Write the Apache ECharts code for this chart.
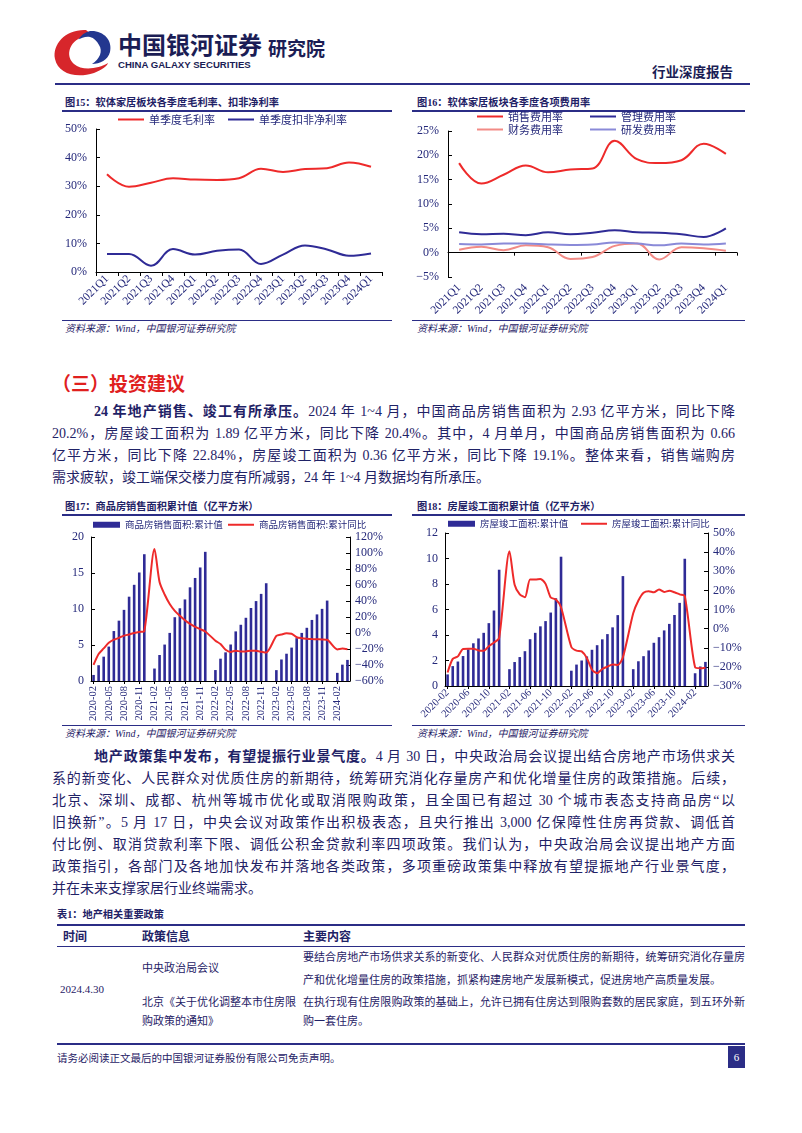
<!DOCTYPE html>
<html><head><meta charset="utf-8">
<script src="https://cdn.jsdelivr.net/npm/echarts@6/dist/echarts.min.js"></script>
<style>
html,body{margin:0;padding:0;background:#fff;}
#page{position:relative;width:802px;height:1133px;overflow:hidden;background:#fff;font-family:"Liberation Serif","Noto Sans CJK SC",serif;color:#1f2266;}
.a{position:absolute;white-space:nowrap;}
.j{position:absolute;text-align:justify;text-align-last:justify;white-space:normal;overflow:visible;}
.hl{position:absolute;background:#2b2d86;}
.ct{position:absolute;font-size:10.2px;font-weight:bold;white-space:nowrap;line-height:14px;}
.src{position:absolute;font-size:10px;font-style:italic;white-space:nowrap;line-height:12px;}
.p{font-size:14px;line-height:20px;height:20px;}
.t{font-size:11px;line-height:16px;height:16px;}
.chart{position:absolute;}
</style></head>
<body><div id="page">

<svg class="a" style="left:50px;top:26px" width="64" height="54" viewBox="0 0 64 54">
  <path d="M36 4 C16 3 2 18 5 33 C8 47 25 53 44 47 C52 44 57 40 58 37 C48 43 32 45 24 38 C16 31 18 18 30 12 C34 10 38 9 42 9 Z" fill="#d7262b"/>
  <path d="M40 5 C53 4 63 14 60 26 C58 34 50 38 42 38 C50 33 53 25 49 19 C47 15 44 12 40 11 C36 10 31 12 28 14 C31 9 35 6 40 5 Z" fill="#23378f"/>
  <path d="M30 14 C24 18 24 26 32 28 C40 30 42 36 36 40" stroke="#fff" stroke-width="3" fill="none"/>
</svg>
<div class="a" style="left:118px;top:29px;font-size:24px;font-weight:bold;font-family:'Noto Sans CJK SC';color:#1b1d55;line-height:30px;">中国银河证券</div>
<div class="a" style="left:118px;top:59px;font-size:9.6px;font-weight:bold;font-family:'Liberation Sans';color:#1b1d55;line-height:12px;">CHINA GALAXY SECURITIES</div>
<div class="a" style="left:268px;top:36px;font-size:19px;font-weight:bold;font-family:'Noto Sans CJK SC';color:#1b1d55;line-height:24px;">研究院</div>
<div class="a" style="left:652px;top:62px;font-size:13.5px;font-weight:bold;font-family:'Noto Sans CJK SC';color:#1b1d55;line-height:18px;">行业深度报告</div>
<div class="hl" style="left:55px;top:83px;width:695px;height:2px;"></div>

<div class="ct" style="left:65px;top:96px;">图15：软体家居板块各季度毛利率、扣非净利率</div>
<div class="hl" style="left:62px;top:110px;width:330px;height:1.5px;"></div>
<div class="ct" style="left:417px;top:96px;">图16：软体家居板块各季度各项费用率</div>
<div class="hl" style="left:412px;top:110px;width:333px;height:1.5px;"></div>
<div id="c15" class="chart" style="left:55px;top:112px;width:340px;height:206px;"></div>
<div id="c16" class="chart" style="left:405px;top:108px;width:340px;height:210px;"></div>
<div class="hl" style="left:62px;top:320px;width:330px;height:1px;"></div>
<div class="hl" style="left:412px;top:320px;width:333px;height:1px;"></div>
<div class="src" style="left:65px;top:323px;">资料来源：Wind，中国银河证券研究院</div>
<div class="src" style="left:417px;top:323px;">资料来源：Wind，中国银河证券研究院</div>

<div class="a" style="left:52px;top:371px;font-size:19px;font-weight:bold;color:#e0201e;font-family:'Noto Sans CJK SC';line-height:24px;">（三）投资建议</div>

<div class="j p" style="left:94px;top:402px;width:641px;"><b>24 年地产销售、竣工有所承压。</b>2024 年 1~4 月，中国商品房销售面积为 2.93 亿平方米，同比下降</div>
<div class="j p" style="left:52px;top:424px;width:683px;">20.2%，房屋竣工面积为 1.89 亿平方米，同比下降 20.4%。其中，4 月单月，中国商品房销售面积为 0.66</div>
<div class="j p" style="left:52px;top:446px;width:683px;">亿平方米，同比下降 22.84%，房屋竣工面积为 0.36 亿平方米，同比下降 19.1%。整体来看，销售端购房</div>
<div class="a p" style="left:52px;top:468px;">需求疲软，竣工端保交楼力度有所减弱，24 年 1~4 月数据均有所承压。</div>

<div class="ct" style="left:65px;top:500px;">图17：商品房销售面积累计值（亿平方米）</div>
<div class="hl" style="left:62px;top:514px;width:330px;height:1.5px;"></div>
<div class="ct" style="left:417px;top:500px;">图18：房屋竣工面积累计值（亿平方米）</div>
<div class="hl" style="left:412px;top:514px;width:333px;height:1.5px;"></div>
<div id="c17" class="chart" style="left:55px;top:515px;width:340px;height:210px;"></div>
<div id="c18" class="chart" style="left:405px;top:515px;width:340px;height:210px;"></div>
<div class="hl" style="left:62px;top:725px;width:330px;height:1px;"></div>
<div class="hl" style="left:412px;top:725px;width:333px;height:1px;"></div>
<div class="src" style="left:65px;top:728px;">资料来源：Wind，中国银河证券研究院</div>
<div class="src" style="left:417px;top:728px;">资料来源：Wind，中国银河证券研究院</div>

<div class="j p" style="left:94px;top:747px;width:641px;"><b>地产政策集中发布，有望提振行业景气度。</b>4 月 30 日，中央政治局会议提出结合房地产市场供求关</div>
<div class="j p" style="left:52px;top:769px;width:683px;">系的新变化、人民群众对优质住房的新期待，统筹研究消化存量房产和优化增量住房的政策措施。后续，</div>
<div class="j p" style="left:52px;top:791px;width:683px;">北京、深圳、成都、杭州等城市优化或取消限购政策，且全国已有超过 30 个城市表态支持商品房“以</div>
<div class="j p" style="left:52px;top:813px;width:683px;">旧换新”。5 月 17 日，中央会议对政策作出积极表态，且央行推出 3,000 亿保障性住房再贷款、调低首</div>
<div class="j p" style="left:52px;top:835px;width:683px;">付比例、取消贷款利率下限、调低公积金贷款利率四项政策。我们认为，中央政治局会议提出地产方面</div>
<div class="j p" style="left:52px;top:857px;width:683px;">政策指引，各部门及各地加快发布并落地各类政策，多项重磅政策集中释放有望提振地产行业景气度，</div>
<div class="a p" style="left:52px;top:879px;">并在未来支撑家居行业终端需求。</div>

<div class="ct" style="left:57px;top:908px;">表1：地产相关重要政策</div>
<div class="hl" style="left:57px;top:924px;width:688px;height:2px;"></div>
<div class="a t" style="left:63px;top:929px;font-weight:bold;font-size:12px;">时间</div>
<div class="a t" style="left:142px;top:929px;font-weight:bold;font-size:12px;">政策信息</div>
<div class="a t" style="left:303px;top:929px;font-weight:bold;font-size:12px;">主要内容</div>
<div class="hl" style="left:57px;top:946px;width:688px;height:1px;"></div>
<div class="a t" style="left:142px;top:960px;">中央政治局会议</div>
<div class="a t" style="left:60px;top:981px;">2024.4.30</div>
<div class="a t" style="left:142px;top:994px;">北京《关于优化调整本市住房限</div>
<div class="a t" style="left:142px;top:1013px;">购政策的通知》</div>
<div class="j t" style="left:303px;top:949px;width:442px;">要结合房地产市场供求关系的新变化、人民群众对优质住房的新期待，统筹研究消化存量房</div>
<div class="a t" style="left:303px;top:972px;">产和优化增量住房的政策措施，抓紧构建房地产发展新模式，促进房地产高质量发展。</div>
<div class="j t" style="left:303px;top:994px;width:442px;">在执行现有住房限购政策的基础上，允许已拥有住房达到限购套数的居民家庭，到五环外新</div>
<div class="a t" style="left:303px;top:1013px;">购一套住房。</div>

<div class="hl" style="left:57px;top:1043px;width:688px;height:2px;"></div>
<div class="a" style="left:57px;top:1052px;font-size:10.5px;line-height:14px;">请务必阅读正文最后的中国银河证券股份有限公司免责声明。</div>
<div class="a" style="left:728px;top:1046px;width:17px;height:22px;background:#2b2d86;color:#fff;font-size:11px;line-height:22px;text-align:center;">6</div>

</div>
<script>
// ---------- data ----------
const quarters = ['2021Q1','2021Q2','2021Q3','2021Q4','2022Q1','2022Q2','2022Q3','2022Q4','2023Q1','2023Q2','2023Q3','2023Q4','2024Q1'];
const grossMargin = [34.2,29.8,31.2,32.8,32.3,32.2,32.8,36.1,35.0,36.0,36.3,38.3,36.8];
const netMargin = [6.3,6.3,2.2,8.0,6.1,7.4,7.9,2.8,6.1,9.3,7.9,5.7,6.5];
const sellExpRate = [18.4,14.2,16.0,17.9,16.5,17.1,17.3,23.0,19.2,18.4,19.0,22.4,20.3];
const adminExpRate = [4.2,3.8,3.9,3.6,4.2,3.8,4.1,4.6,4.2,4.1,3.8,3.2,5.0];
const finExpRate = [0.6,1.2,0.5,1.5,1.1,-1.3,-0.9,1.4,1.9,-1.4,1.1,0.9,0.4];
const rdExpRate = [1.8,1.7,1.9,1.9,1.7,1.6,1.7,2.1,1.9,1.5,1.9,1.7,1.9];

const months = ['2020-02','2020-03','2020-04','2020-05','2020-06','2020-07','2020-08','2020-09','2020-10','2020-11','2020-12',
 '2021-01','2021-02','2021-03','2021-04','2021-05','2021-06','2021-07','2021-08','2021-09','2021-10','2021-11','2021-12',
 '2022-01','2022-02','2022-03','2022-04','2022-05','2022-06','2022-07','2022-08','2022-09','2022-10','2022-11','2022-12',
 '2023-01','2023-02','2023-03','2023-04','2023-05','2023-06','2023-07','2023-08','2023-09','2023-10','2023-11','2023-12',
 '2024-01','2024-02','2024-03','2024-04'];
const salesArea = [0.84,2.19,3.38,4.78,6.94,8.38,9.88,11.71,13.36,15.07,17.61,
 null,1.73,3.61,5.06,6.68,8.86,10.10,11.33,13.01,14.31,15.77,17.94,
 null,1.52,3.10,3.98,5.07,6.89,7.81,8.78,10.14,11.10,12.10,13.58,
 null,1.51,2.99,3.79,4.64,5.95,6.68,7.39,8.48,9.25,10.02,11.17,
 null,1.13,2.27,2.93];
const salesYoY = [-39.9,-26.3,-19.3,-12.3,-8.4,-6.1,-3.3,-1.8,0.0,1.3,2.6,
 null,104.9,63.8,48.1,36.3,27.7,21.5,15.9,11.3,7.6,4.8,1.9,
 null,-9.6,-13.8,-20.9,-23.6,-22.2,-23.1,-23.0,-22.2,-22.3,-23.3,-24.3,
 null,-3.6,-1.8,-0.4,-0.9,-5.3,-6.5,-7.1,-7.5,-7.8,-8.0,-8.5,
 null,-20.5,-19.4,-20.2];
const complArea = [0.91,1.56,1.92,2.35,2.88,3.35,3.73,4.17,4.93,5.92,9.12,
 null,1.32,1.88,2.27,2.73,3.67,4.17,4.68,5.09,5.76,6.88,10.14,
 null,1.20,1.68,2.00,2.32,2.84,3.20,3.66,4.07,4.60,5.56,8.62,
 null,1.32,1.94,2.34,2.79,3.39,3.83,4.36,4.87,5.57,6.52,9.98,
 null,1.00,1.53,1.89];
const complYoY = [-22.9,-15.8,-14.5,-10.6,-10.5,-10.5,-11.4,-11.6,-9.2,-7.3,-4.9,
 null,40.4,22.9,17.9,16.4,25.7,25.7,26.0,23.4,16.3,15.2,11.2,
 null,-9.6,-11.5,-11.9,-15.3,-21.5,-23.3,-21.1,-19.9,-18.7,-19.0,-15.0,
 null,8.0,14.7,18.8,19.6,19.0,20.5,19.2,19.8,19.0,17.9,17.0,
 null,-20.2,-20.7,-20.4];

// ---------- styles ----------
const RED = '#ee2a2a', NAVY = '#2f2b96', SALMON = '#f28b86', LPURP = '#8a8ad8';
const LBL = '#24287a';
const FONT = 'Liberation Serif, Noto Sans CJK SC, serif';
const pct = v => (v < 0 ? '\u2212' + Math.abs(v) : v) + '%';
const axisLineS = {show:true, lineStyle:{color:'#000', width:1}};
function legendItem(name, left, top, w, h, fs){
  return {data:[name], left:left, top:top, padding:0, itemWidth:w, itemHeight:h, icon:'rect', selectedMode:false,
    textStyle:{color:LBL, fontSize:fs || 11, fontFamily:'Noto Sans CJK SC'}};
}
function lineSeries(name, data, color, yIdx, smooth){
  return {name:name, type:'line', data:data, yAxisIndex:yIdx||0, smooth:smooth, symbol:'none', connectNulls:true,
    lineStyle:{color:color, width:2}, itemStyle:{color:color}};
}

// ---------- chart 15 ----------
echarts.init(document.getElementById('c15')).setOption({
  animation:false, textStyle:{fontFamily:FONT},
  grid:{left:41, top:17, right:13, bottom:46, outerBoundsMode:'none'},
  legend:[legendItem('单季度毛利率',63,2,26,2), legendItem('单季度扣非净利率',173,2,26,2)],
  xAxis:{type:'category', data:quarters, boundaryGap:true, axisLine:axisLineS,
    axisTick:{show:true, length:4, lineStyle:{color:'#000'}},
    axisLabel:{rotate:45, color:LBL, fontSize:11.5, margin:5, interval:0}},
  yAxis:{type:'value', min:0, max:50, interval:10, axisLine:axisLineS,
    axisTick:{show:true, inside:true, length:4, lineStyle:{color:'#000'}}, splitLine:{show:false},
    axisLabel:{formatter:pct, color:LBL, fontSize:12, margin:9}},
  series:[lineSeries('单季度毛利率', grossMargin, RED, 0, 0.4), lineSeries('单季度扣非净利率', netMargin, NAVY, 0, 0.4)]
});

// ---------- chart 16 ----------
echarts.init(document.getElementById('c16')).setOption({
  animation:false, textStyle:{fontFamily:FONT},
  grid:{left:43, top:23, right:8, bottom:41, outerBoundsMode:'none'},
  legend:[legendItem('销售费用率',72,3,26,2), legendItem('管理费用率',185,3,26,2),
          legendItem('财务费用率',72,16,26,2), legendItem('研发费用率',185,16,26,2)],
  xAxis:[
    {type:'category', data:quarters, boundaryGap:true, position:'bottom', axisLine:{show:false, onZero:false},
     axisTick:{show:false}, axisLabel:{rotate:45, color:LBL, fontSize:11.5, margin:9, interval:0}},
    {type:'category', data:quarters, boundaryGap:true, position:'bottom', axisLine:{show:true, onZero:true, lineStyle:{color:'#000'}},
     axisTick:{show:true, length:3, lineStyle:{color:'#000'}}, axisLabel:{show:false}}
  ],
  yAxis:{type:'value', min:-5, max:25, interval:5, axisLine:axisLineS,
    axisTick:{show:true, inside:true, length:4, lineStyle:{color:'#000'}}, splitLine:{show:false},
    axisLabel:{formatter:pct, color:LBL, fontSize:12, margin:9}},
  series:[lineSeries('销售费用率', sellExpRate, RED, 0, 0.4), lineSeries('管理费用率', adminExpRate, NAVY, 0, 0.4),
          lineSeries('财务费用率', finExpRate, SALMON, 0, 0.4), lineSeries('研发费用率', rdExpRate, LPURP, 0, 0.4)]
});

// ---------- charts 17 / 18 ----------
function dualChart(id, barName, barData, lineName, lineData, g, lmax, lint, rmin, rmax, rint, rot, lblInt, legPos){
  echarts.init(document.getElementById(id)).setOption({
    animation:false, textStyle:{fontFamily:FONT},
    grid:Object.assign({outerBoundsMode:'none'}, g),
    legend:[legendItem(barName, legPos[0], legPos[1], 27, 6, 9.5), legendItem(lineName, legPos[2], legPos[3], 26, 2, 9.5)],
    xAxis:{type:'category', data:months, boundaryGap:true, axisLine:axisLineS,
      axisTick:{show:true, length:3, interval:lblInt, alignWithLabel:true, lineStyle:{color:'#000'}},
      axisLabel:{rotate:rot, color:LBL, fontSize:10.5, margin:5, interval:lblInt}},
    yAxis:[
      {type:'value', min:0, max:lmax, interval:lint, position:'left', axisLine:axisLineS,
       axisTick:{show:true, inside:true, length:4, lineStyle:{color:'#000'}}, splitLine:{show:false},
       axisLabel:{color:LBL, fontSize:12, margin:7}},
      {type:'value', min:rmin, max:rmax, interval:rint, position:'right', axisLine:axisLineS,
       axisTick:{show:true, inside:true, length:4, lineStyle:{color:'#000'}}, splitLine:{show:false},
       axisLabel:{formatter:pct, color:LBL, fontSize:12, margin:5}}
    ],
    series:[
      {name:barName, type:'bar', data:barData, yAxisIndex:0, barWidth:2.6, itemStyle:{color:NAVY}},
      lineSeries(lineName, lineData, RED, 1, 0.25)
    ]
  });
}
dualChart('c17','商品房销售面积:累计值', salesArea, '商品房销售面积:累计同比', salesYoY,
  {left:36, top:22, right:45, bottom:44}, 20, 5, -60, 120, 20, 90, 2, [38,5,173,5]);
dualChart('c18','房屋竣工面积:累计值', complArea, '房屋竣工面积:累计同比', complYoY,
  {left:40, top:18, right:37, bottom:39}, 12, 2, -30, 50, 10, 45, 3, [43,4,176,4]);
</script>
</body></html>
